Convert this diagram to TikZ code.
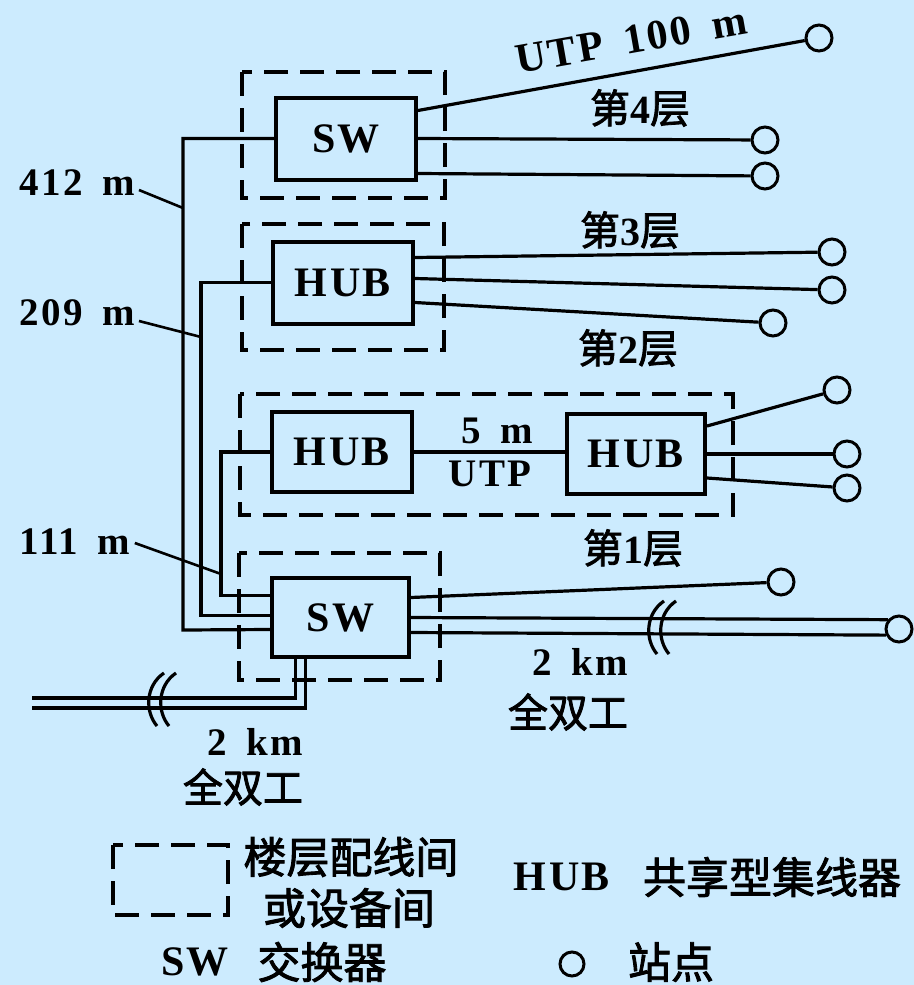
\documentclass[tikz,border=0pt]{standalone}
\usepackage{fontspec}
\setmainfont{Liberation Serif}[LetterSpace=6]
\newfontfamily\cjk{Noto Sans CJK SC}[AutoFakeBold=2]
\usepackage{tikz}
\definecolor{paperBlue}{HTML}{CCEBFE}

\tikzset{
  dev/.style={draw, line width=2pt, inner sep=0pt, minimum width=70pt, minimum height=41pt,
    font=\bfseries\fontsize{21}{24}\selectfont},
  room/.style={line width=1.6pt, dash pattern=on 12pt off 6pt},
  wire/.style={line width=1.6pt},
  lead/.style={line width=1.3pt},
  station/.style={draw, circle, line width=1.5pt, minimum size=13pt, inner sep=0pt},
  lbl/.style={font=\bfseries\fontsize{19.5}{22}\selectfont, inner sep=0pt},
  zh/.style={font=\cjk\bfseries\fontsize{20}{24}\selectfont, inner sep=0pt},
  zhkey/.style={font=\cjk\bfseries\fontsize{21.5}{26}\selectfont, inner sep=0pt},
}

\begin{document}
\begin{tikzpicture}[x=0.5pt, y=-0.5pt]
  \fill[paperBlue] (0,0) rectangle (914,985);
  \useasboundingbox (0,0) rectangle (914,985);

  % equipment rooms
  \draw[room] (242,72) rectangle (445,198);
  \draw[room] (242,224) rectangle (444,350);
  \draw[room] (240,394) rectangle (733,515);
  \draw[room] (239,553) rectangle (440,680);

  % switches and hubs
  \node[dev] (sw4) at (346,138.5) {SW};
  \node[dev] (hub3) at (343,282.5) {HUB};
  \node[dev, minimum height=40pt] (hub1a) at (342,452) {HUB};
  \node[dev, minimum width=69pt, minimum height=40pt] (hub1b) at (636,454) {HUB};
  \node[dev, minimum width=68.5pt, minimum height=39.5pt] (sw1) at (340.5,617.5) {SW};

  % stations
  \foreach \n/\x/\y in {st4a/819/38, st4b/765/140, st4c/765/176,
                        st3a/832/252, st3b/832/290, st3c/773/323,
                        st1a/837/390, st1b/847/454, st1c/847/488,
                        st0a/781/582, st0b/899/629}
     \node[station] (\n) at (\x,\y) {};

  % floor 4
  \draw[wire] ([yshift=14pt]sw4.east) -- (st4a);
  \draw[wire] (sw4.east) -- (st4b);
  \draw[wire] ([yshift=-17.5pt]sw4.east) -- (st4c);
  % floors 3 and 2
  \draw[wire] ([yshift=12.5pt]hub3.east) -- (st3a);
  \draw[wire] ([yshift=2pt]hub3.east) -- (st3b);
  \draw[wire] ([yshift=-10pt]hub3.east) -- (st3c);
  % floor 1
  \draw[wire] (hub1a.east) -- (hub1a.east -| hub1b.west);
  \draw[wire] ([yshift=14pt]hub1b.east) -- (st1a);
  \draw[wire] (hub1b.east) -- (st1b);
  \draw[wire] ([yshift=-12pt]hub1b.east) -- (st1c);
  \draw[wire] ([yshift=10pt]sw1.east) -- (st0a);
  \draw[wire] (sw1.east) -- (st0b.140);
  \draw[wire] ([yshift=-7.5pt]sw1.east) -- (st0b.205);

  % risers
  \draw[wire] (sw4.west) -| (183,630) -- ([yshift=-6pt]sw1.west);
  \draw[wire] (hub3.west) -| (201,615.5) -- ([yshift=1pt]sw1.west);
  \draw[wire] (hub1a.west) -| (221,595.5) -- ([yshift=11pt]sw1.west);

  % riser lengths
  \node[lbl] (len412) at (77,183) {412\enspace m};
  \node[lbl] (len209) at (77,313) {209\enspace m};
  \node[lbl] (len111) at (75,542) {111\enspace m};
  \coordinate (k412) at (183,208);
  \coordinate (k209) at (201,337);
  \coordinate (k111) at (221,574);
  \draw[lead] ([xshift=2pt,yshift=-3.5pt]len412.east) -- (k412);
  \draw[lead] ([xshift=2pt,yshift=-4pt]len209.east) -- (k209);
  \draw[lead] ([xshift=2pt,yshift=-0.5pt]len111.east) -- (k111);

  % 2 km trunk to the left
  \coordinate (far0a) at (32,698);
  \coordinate (far0b) at (32,708);
  \draw[wire] ([xshift=-22.5pt]sw1.south) |- (far0a);
  \draw[wire] ([xshift=-17.5pt]sw1.south) |- (far0b);
  % cut marks
  \foreach \cx/\cy in {155/700, 655/628}{
    \foreach \d in {0,12}
      \draw[wire] (\cx+\d+9,\cy-27) .. controls (\cx+\d-10,\cy-14) and (\cx+\d-10,\cy+12) .. (\cx+\d+2,\cy+26);}

  % labels
  \node[lbl, rotate=10, font=\bfseries\fontsize{21}{24}\selectfont] (utp100) at (631,40) {UTP\enspace 100\enspace m};
  \node[zh] (fl4) at (640,108) {第{\rmfamily 4}层};
  \node[zh] (fl3) at (630,230) {第{\rmfamily 3}层};
  \node[zh] (fl2) at (628,348) {第{\rmfamily 2}层};
  \node[zh] (fl1) at (633,548) {第{\rmfamily 1}层};
  \node[lbl] (utp5) at (497,431) {5\enspace m};
  \node[lbl] (utp5b) at (490,474) {UTP};
  \node[lbl] (kmL) at (255,742) {2\enspace km};
  \node[zh] (fdL) at (243,787) {全双工};
  \node[lbl] (kmR) at (580,662) {2\enspace km};
  \node[zh] (fdR) at (568,712) {全双工};

  % legend
  \draw[room] (113,845) rectangle (228,915);
  \node[zhkey] (keyroom) at (351,857) {楼层配线间};
  \node[zhkey] (keyroomb) at (349,908) {或设备间};
  \node[lbl, font=\bfseries\fontsize{21}{24}\selectfont] (keyhub) at (562,877) {HUB};
  \node[zhkey] (keyhubtxt) at (772,877) {共享型集线器};
  \node[lbl, font=\bfseries\fontsize{21}{24}\selectfont] (keysw) at (195,962) {SW};
  \node[zhkey] (keyswtxt) at (322,962) {交换器};
  \node[station, minimum size=12pt] (keyst) at (572,964) {};
  \node[zhkey] (keysttxt) at (671,962) {站点};
\end{tikzpicture}
\end{document}
